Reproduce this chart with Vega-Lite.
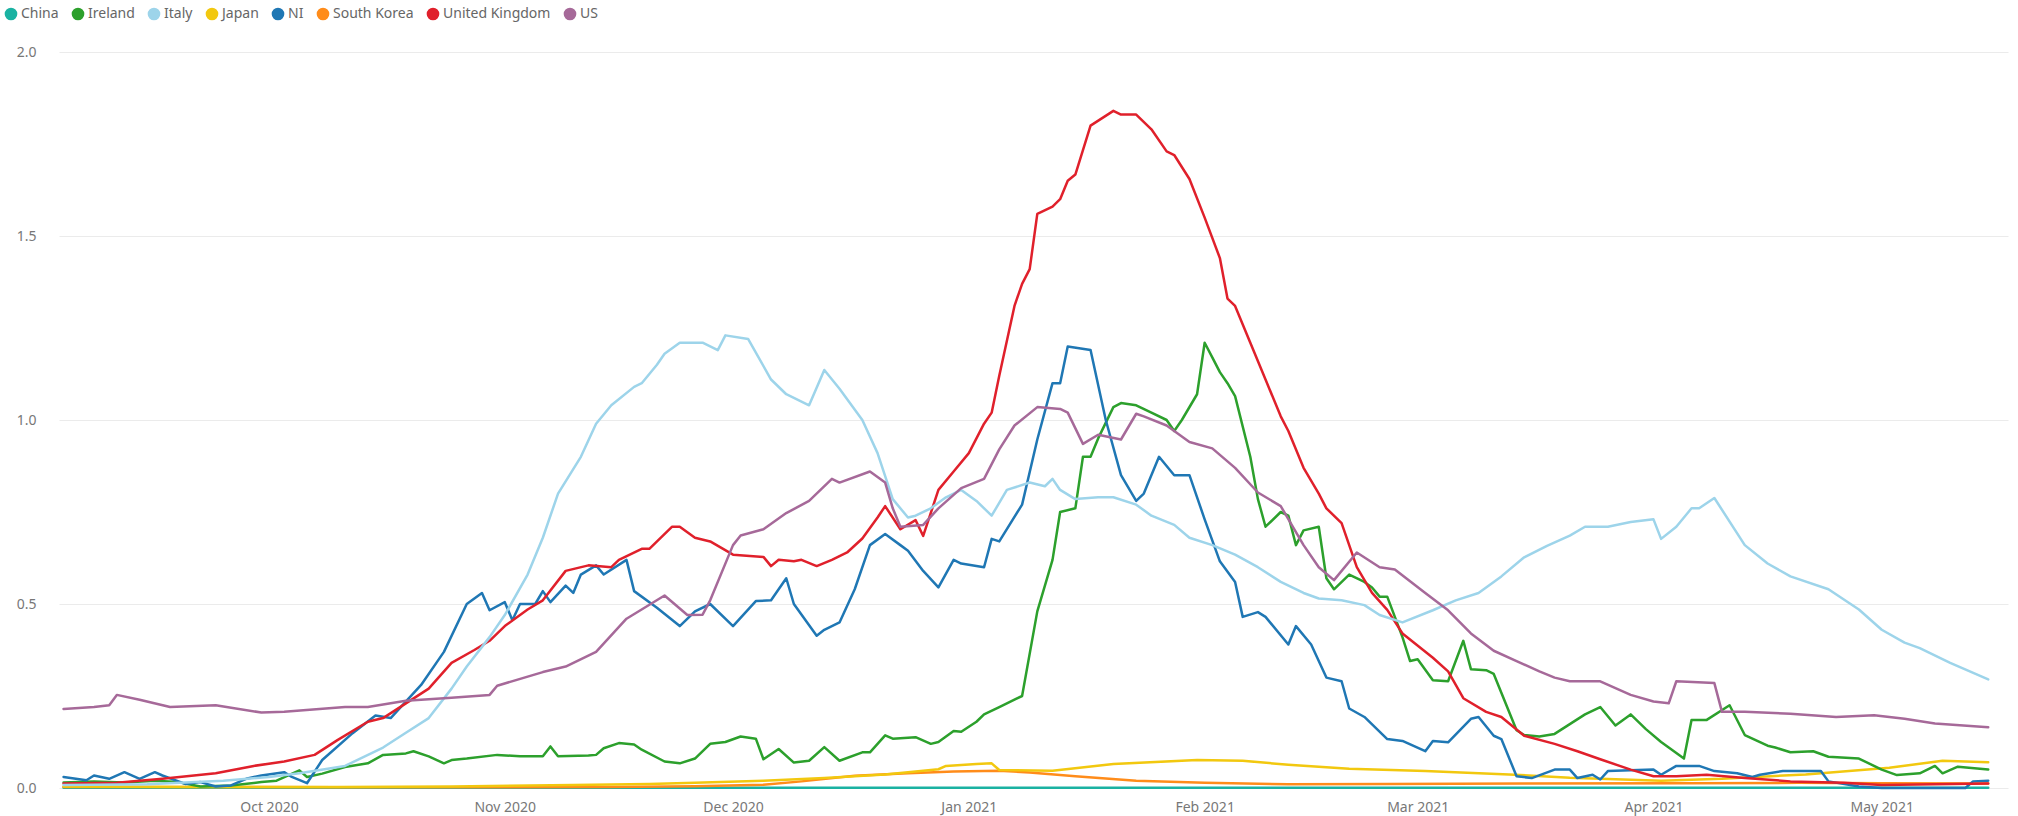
{
  "$schema": "https://vega.github.io/schema/vega-lite/v6.json",
  "autosize": "none",
  "width": 1949,
  "height": 736,
  "padding": {"left": 59, "top": 52, "right": 10, "bottom": 28},
  "background": "white",
  "config": {
    "view": {"stroke": null},
    "font": "Noto Sans"
  },
  "data": {
    "values": [
      {"country":"China","date":"2020-09-04","value":0.001},
      {"country":"China","date":"2020-10-15","value":0.001},
      {"country":"China","date":"2020-12-01","value":0.001},
      {"country":"China","date":"2021-01-15","value":0.001},
      {"country":"China","date":"2021-03-01","value":0.001},
      {"country":"China","date":"2021-04-15","value":0.001},
      {"country":"China","date":"2021-05-15","value":0.001},

      {"country":"South Korea","date":"2020-09-04","value":0.003},
      {"country":"South Korea","date":"2020-09-20","value":0.003},
      {"country":"South Korea","date":"2020-10-10","value":0.002},
      {"country":"South Korea","date":"2020-11-01","value":0.002},
      {"country":"South Korea","date":"2020-11-15","value":0.003},
      {"country":"South Korea","date":"2020-11-26","value":0.005},
      {"country":"South Korea","date":"2020-12-05","value":0.009},
      {"country":"South Korea","date":"2020-12-10","value":0.018},
      {"country":"South Korea","date":"2020-12-17","value":0.033},
      {"country":"South Korea","date":"2020-12-24","value":0.04},
      {"country":"South Korea","date":"2020-12-30","value":0.045},
      {"country":"South Korea","date":"2021-01-05","value":0.047},
      {"country":"South Korea","date":"2021-01-09","value":0.042},
      {"country":"South Korea","date":"2021-01-15","value":0.032},
      {"country":"South Korea","date":"2021-01-23","value":0.02},
      {"country":"South Korea","date":"2021-02-01","value":0.014},
      {"country":"South Korea","date":"2021-02-12","value":0.01},
      {"country":"South Korea","date":"2021-02-25","value":0.011},
      {"country":"South Korea","date":"2021-03-15","value":0.012},
      {"country":"South Korea","date":"2021-04-05","value":0.013},
      {"country":"South Korea","date":"2021-04-20","value":0.014},
      {"country":"South Korea","date":"2021-05-01","value":0.013},
      {"country":"South Korea","date":"2021-05-15","value":0.012},

      {"country":"Japan","date":"2020-09-04","value":0.004},
      {"country":"Japan","date":"2020-09-20","value":0.003},
      {"country":"Japan","date":"2020-10-10","value":0.003},
      {"country":"Japan","date":"2020-10-25","value":0.004},
      {"country":"Japan","date":"2020-11-10","value":0.008},
      {"country":"Japan","date":"2020-11-20","value":0.011},
      {"country":"Japan","date":"2020-11-26","value":0.014},
      {"country":"Japan","date":"2020-12-05","value":0.02},
      {"country":"Japan","date":"2020-12-13","value":0.027},
      {"country":"Japan","date":"2020-12-21","value":0.037},
      {"country":"Japan","date":"2020-12-28","value":0.051},
      {"country":"Japan","date":"2020-12-29","value":0.06},
      {"country":"Japan","date":"2021-01-02","value":0.065},
      {"country":"Japan","date":"2021-01-04","value":0.067},
      {"country":"Japan","date":"2021-01-05","value":0.049},
      {"country":"Japan","date":"2021-01-12","value":0.047},
      {"country":"Japan","date":"2021-01-20","value":0.065},
      {"country":"Japan","date":"2021-01-31","value":0.076},
      {"country":"Japan","date":"2021-02-06","value":0.074},
      {"country":"Japan","date":"2021-02-12","value":0.063},
      {"country":"Japan","date":"2021-02-20","value":0.052},
      {"country":"Japan","date":"2021-03-02","value":0.046},
      {"country":"Japan","date":"2021-03-13","value":0.037},
      {"country":"Japan","date":"2021-03-21","value":0.028},
      {"country":"Japan","date":"2021-04-02","value":0.02},
      {"country":"Japan","date":"2021-04-10","value":0.025},
      {"country":"Japan","date":"2021-04-21","value":0.037},
      {"country":"Japan","date":"2021-05-02","value":0.055},
      {"country":"Japan","date":"2021-05-09","value":0.074},
      {"country":"Japan","date":"2021-05-15","value":0.07},

      {"country":"Ireland","date":"2020-09-04","value":0.015},
      {"country":"Ireland","date":"2020-09-08","value":0.018},
      {"country":"Ireland","date":"2020-09-12","value":0.015},
      {"country":"Ireland","date":"2020-09-16","value":0.02},
      {"country":"Ireland","date":"2020-09-19","value":0.016},
      {"country":"Ireland","date":"2020-09-22","value":0.004},
      {"country":"Ireland","date":"2020-09-26","value":0.007},
      {"country":"Ireland","date":"2020-09-30","value":0.016},
      {"country":"Ireland","date":"2020-10-02","value":0.02},
      {"country":"Ireland","date":"2020-10-05","value":0.048},
      {"country":"Ireland","date":"2020-10-06","value":0.03},
      {"country":"Ireland","date":"2020-10-08","value":0.039},
      {"country":"Ireland","date":"2020-10-11","value":0.057},
      {"country":"Ireland","date":"2020-10-14","value":0.067},
      {"country":"Ireland","date":"2020-10-16","value":0.09},
      {"country":"Ireland","date":"2020-10-19","value":0.094},
      {"country":"Ireland","date":"2020-10-20","value":0.1},
      {"country":"Ireland","date":"2020-10-22","value":0.086},
      {"country":"Ireland","date":"2020-10-24","value":0.067},
      {"country":"Ireland","date":"2020-10-25","value":0.076},
      {"country":"Ireland","date":"2020-10-27","value":0.08},
      {"country":"Ireland","date":"2020-10-31","value":0.09},
      {"country":"Ireland","date":"2020-11-03","value":0.086},
      {"country":"Ireland","date":"2020-11-06","value":0.086},
      {"country":"Ireland","date":"2020-11-07","value":0.113},
      {"country":"Ireland","date":"2020-11-08","value":0.086},
      {"country":"Ireland","date":"2020-11-12","value":0.088},
      {"country":"Ireland","date":"2020-11-13","value":0.09},
      {"country":"Ireland","date":"2020-11-14","value":0.108},
      {"country":"Ireland","date":"2020-11-16","value":0.122},
      {"country":"Ireland","date":"2020-11-18","value":0.118},
      {"country":"Ireland","date":"2020-11-19","value":0.104},
      {"country":"Ireland","date":"2020-11-22","value":0.072},
      {"country":"Ireland","date":"2020-11-24","value":0.067},
      {"country":"Ireland","date":"2020-11-26","value":0.08},
      {"country":"Ireland","date":"2020-11-28","value":0.12},
      {"country":"Ireland","date":"2020-11-30","value":0.125},
      {"country":"Ireland","date":"2020-12-02","value":0.14},
      {"country":"Ireland","date":"2020-12-04","value":0.134},
      {"country":"Ireland","date":"2020-12-05","value":0.078},
      {"country":"Ireland","date":"2020-12-07","value":0.106},
      {"country":"Ireland","date":"2020-12-09","value":0.069},
      {"country":"Ireland","date":"2020-12-11","value":0.074},
      {"country":"Ireland","date":"2020-12-13","value":0.111},
      {"country":"Ireland","date":"2020-12-15","value":0.074},
      {"country":"Ireland","date":"2020-12-18","value":0.097},
      {"country":"Ireland","date":"2020-12-19","value":0.097},
      {"country":"Ireland","date":"2020-12-21","value":0.143},
      {"country":"Ireland","date":"2020-12-22","value":0.134},
      {"country":"Ireland","date":"2020-12-25","value":0.138},
      {"country":"Ireland","date":"2020-12-27","value":0.12},
      {"country":"Ireland","date":"2020-12-28","value":0.125},
      {"country":"Ireland","date":"2020-12-30","value":0.155},
      {"country":"Ireland","date":"2020-12-31","value":0.153},
      {"country":"Ireland","date":"2021-01-02","value":0.18},
      {"country":"Ireland","date":"2021-01-03","value":0.2},
      {"country":"Ireland","date":"2021-01-05","value":0.22},
      {"country":"Ireland","date":"2021-01-07","value":0.24},
      {"country":"Ireland","date":"2021-01-08","value":0.25},
      {"country":"Ireland","date":"2021-01-10","value":0.48},
      {"country":"Ireland","date":"2021-01-12","value":0.62},
      {"country":"Ireland","date":"2021-01-13","value":0.75},
      {"country":"Ireland","date":"2021-01-15","value":0.76},
      {"country":"Ireland","date":"2021-01-16","value":0.9},
      {"country":"Ireland","date":"2021-01-17","value":0.9},
      {"country":"Ireland","date":"2021-01-18","value":0.95},
      {"country":"Ireland","date":"2021-01-20","value":1.035},
      {"country":"Ireland","date":"2021-01-21","value":1.046},
      {"country":"Ireland","date":"2021-01-23","value":1.04},
      {"country":"Ireland","date":"2021-01-25","value":1.02},
      {"country":"Ireland","date":"2021-01-27","value":1.0},
      {"country":"Ireland","date":"2021-01-28","value":0.97},
      {"country":"Ireland","date":"2021-01-29","value":1.0},
      {"country":"Ireland","date":"2021-01-31","value":1.07},
      {"country":"Ireland","date":"2021-02-01","value":1.21},
      {"country":"Ireland","date":"2021-02-02","value":1.17},
      {"country":"Ireland","date":"2021-02-03","value":1.13},
      {"country":"Ireland","date":"2021-02-04","value":1.1},
      {"country":"Ireland","date":"2021-02-05","value":1.065},
      {"country":"Ireland","date":"2021-02-07","value":0.9},
      {"country":"Ireland","date":"2021-02-08","value":0.785},
      {"country":"Ireland","date":"2021-02-09","value":0.71},
      {"country":"Ireland","date":"2021-02-11","value":0.75},
      {"country":"Ireland","date":"2021-02-12","value":0.74},
      {"country":"Ireland","date":"2021-02-13","value":0.66},
      {"country":"Ireland","date":"2021-02-14","value":0.7},
      {"country":"Ireland","date":"2021-02-16","value":0.71},
      {"country":"Ireland","date":"2021-02-17","value":0.57},
      {"country":"Ireland","date":"2021-02-18","value":0.54},
      {"country":"Ireland","date":"2021-02-20","value":0.58},
      {"country":"Ireland","date":"2021-02-22","value":0.56},
      {"country":"Ireland","date":"2021-02-23","value":0.545},
      {"country":"Ireland","date":"2021-02-24","value":0.52},
      {"country":"Ireland","date":"2021-02-25","value":0.52},
      {"country":"Ireland","date":"2021-02-27","value":0.41},
      {"country":"Ireland","date":"2021-02-28","value":0.345},
      {"country":"Ireland","date":"2021-03-01","value":0.35},
      {"country":"Ireland","date":"2021-03-03","value":0.293},
      {"country":"Ireland","date":"2021-03-05","value":0.29},
      {"country":"Ireland","date":"2021-03-07","value":0.4},
      {"country":"Ireland","date":"2021-03-08","value":0.323},
      {"country":"Ireland","date":"2021-03-10","value":0.32},
      {"country":"Ireland","date":"2021-03-11","value":0.31},
      {"country":"Ireland","date":"2021-03-14","value":0.157},
      {"country":"Ireland","date":"2021-03-15","value":0.144},
      {"country":"Ireland","date":"2021-03-17","value":0.14},
      {"country":"Ireland","date":"2021-03-19","value":0.147},
      {"country":"Ireland","date":"2021-03-23","value":0.2},
      {"country":"Ireland","date":"2021-03-25","value":0.22},
      {"country":"Ireland","date":"2021-03-27","value":0.17},
      {"country":"Ireland","date":"2021-03-29","value":0.2},
      {"country":"Ireland","date":"2021-03-31","value":0.16},
      {"country":"Ireland","date":"2021-04-02","value":0.125},
      {"country":"Ireland","date":"2021-04-03","value":0.11},
      {"country":"Ireland","date":"2021-04-05","value":0.08},
      {"country":"Ireland","date":"2021-04-06","value":0.185},
      {"country":"Ireland","date":"2021-04-08","value":0.185},
      {"country":"Ireland","date":"2021-04-11","value":0.225},
      {"country":"Ireland","date":"2021-04-13","value":0.144},
      {"country":"Ireland","date":"2021-04-16","value":0.115},
      {"country":"Ireland","date":"2021-04-17","value":0.11},
      {"country":"Ireland","date":"2021-04-19","value":0.097},
      {"country":"Ireland","date":"2021-04-22","value":0.1},
      {"country":"Ireland","date":"2021-04-24","value":0.085},
      {"country":"Ireland","date":"2021-04-28","value":0.08},
      {"country":"Ireland","date":"2021-05-01","value":0.05},
      {"country":"Ireland","date":"2021-05-03","value":0.035},
      {"country":"Ireland","date":"2021-05-06","value":0.04},
      {"country":"Ireland","date":"2021-05-08","value":0.06},
      {"country":"Ireland","date":"2021-05-09","value":0.04},
      {"country":"Ireland","date":"2021-05-11","value":0.058},
      {"country":"Ireland","date":"2021-05-15","value":0.05},

      {"country":"NI","date":"2020-09-04","value":0.03},
      {"country":"NI","date":"2020-09-07","value":0.021},
      {"country":"NI","date":"2020-09-08","value":0.034},
      {"country":"NI","date":"2020-09-10","value":0.025},
      {"country":"NI","date":"2020-09-12","value":0.043},
      {"country":"NI","date":"2020-09-14","value":0.025},
      {"country":"NI","date":"2020-09-16","value":0.043},
      {"country":"NI","date":"2020-09-17","value":0.034},
      {"country":"NI","date":"2020-09-20","value":0.011},
      {"country":"NI","date":"2020-09-22","value":0.016},
      {"country":"NI","date":"2020-09-24","value":0.004},
      {"country":"NI","date":"2020-09-26","value":0.007},
      {"country":"NI","date":"2020-09-28","value":0.025},
      {"country":"NI","date":"2020-09-30","value":0.034},
      {"country":"NI","date":"2020-10-03","value":0.043},
      {"country":"NI","date":"2020-10-04","value":0.03},
      {"country":"NI","date":"2020-10-06","value":0.013},
      {"country":"NI","date":"2020-10-08","value":0.076},
      {"country":"NI","date":"2020-10-12","value":0.149},
      {"country":"NI","date":"2020-10-15","value":0.197},
      {"country":"NI","date":"2020-10-17","value":0.19},
      {"country":"NI","date":"2020-10-21","value":0.28},
      {"country":"NI","date":"2020-10-24","value":0.37},
      {"country":"NI","date":"2020-10-27","value":0.5},
      {"country":"NI","date":"2020-10-29","value":0.53},
      {"country":"NI","date":"2020-10-30","value":0.483},
      {"country":"NI","date":"2020-11-01","value":0.505},
      {"country":"NI","date":"2020-11-02","value":0.456},
      {"country":"NI","date":"2020-11-03","value":0.5},
      {"country":"NI","date":"2020-11-05","value":0.5},
      {"country":"NI","date":"2020-11-06","value":0.535},
      {"country":"NI","date":"2020-11-07","value":0.505},
      {"country":"NI","date":"2020-11-09","value":0.55},
      {"country":"NI","date":"2020-11-10","value":0.53},
      {"country":"NI","date":"2020-11-11","value":0.58},
      {"country":"NI","date":"2020-11-13","value":0.605},
      {"country":"NI","date":"2020-11-14","value":0.58},
      {"country":"NI","date":"2020-11-17","value":0.62},
      {"country":"NI","date":"2020-11-18","value":0.535},
      {"country":"NI","date":"2020-11-21","value":0.49},
      {"country":"NI","date":"2020-11-24","value":0.44},
      {"country":"NI","date":"2020-11-26","value":0.48},
      {"country":"NI","date":"2020-11-28","value":0.5},
      {"country":"NI","date":"2020-12-01","value":0.44},
      {"country":"NI","date":"2020-12-04","value":0.508},
      {"country":"NI","date":"2020-12-06","value":0.51},
      {"country":"NI","date":"2020-12-08","value":0.57},
      {"country":"NI","date":"2020-12-09","value":0.5},
      {"country":"NI","date":"2020-12-12","value":0.414},
      {"country":"NI","date":"2020-12-13","value":0.43},
      {"country":"NI","date":"2020-12-15","value":0.45},
      {"country":"NI","date":"2020-12-17","value":0.54},
      {"country":"NI","date":"2020-12-19","value":0.66},
      {"country":"NI","date":"2020-12-21","value":0.69},
      {"country":"NI","date":"2020-12-23","value":0.66},
      {"country":"NI","date":"2020-12-24","value":0.645},
      {"country":"NI","date":"2020-12-26","value":0.59},
      {"country":"NI","date":"2020-12-28","value":0.545},
      {"country":"NI","date":"2020-12-30","value":0.62},
      {"country":"NI","date":"2020-12-31","value":0.61},
      {"country":"NI","date":"2021-01-03","value":0.6},
      {"country":"NI","date":"2021-01-04","value":0.677},
      {"country":"NI","date":"2021-01-05","value":0.67},
      {"country":"NI","date":"2021-01-08","value":0.77},
      {"country":"NI","date":"2021-01-10","value":0.947},
      {"country":"NI","date":"2021-01-12","value":1.1},
      {"country":"NI","date":"2021-01-13","value":1.1},
      {"country":"NI","date":"2021-01-14","value":1.2},
      {"country":"NI","date":"2021-01-17","value":1.19},
      {"country":"NI","date":"2021-01-19","value":1.0},
      {"country":"NI","date":"2021-01-21","value":0.85},
      {"country":"NI","date":"2021-01-23","value":0.78},
      {"country":"NI","date":"2021-01-24","value":0.8},
      {"country":"NI","date":"2021-01-26","value":0.9},
      {"country":"NI","date":"2021-01-28","value":0.85},
      {"country":"NI","date":"2021-01-30","value":0.85},
      {"country":"NI","date":"2021-02-01","value":0.73},
      {"country":"NI","date":"2021-02-03","value":0.616},
      {"country":"NI","date":"2021-02-05","value":0.56},
      {"country":"NI","date":"2021-02-06","value":0.465},
      {"country":"NI","date":"2021-02-08","value":0.478},
      {"country":"NI","date":"2021-02-09","value":0.465},
      {"country":"NI","date":"2021-02-12","value":0.39},
      {"country":"NI","date":"2021-02-13","value":0.44},
      {"country":"NI","date":"2021-02-15","value":0.39},
      {"country":"NI","date":"2021-02-17","value":0.3},
      {"country":"NI","date":"2021-02-19","value":0.29},
      {"country":"NI","date":"2021-02-20","value":0.216},
      {"country":"NI","date":"2021-02-22","value":0.193},
      {"country":"NI","date":"2021-02-25","value":0.133},
      {"country":"NI","date":"2021-02-27","value":0.128},
      {"country":"NI","date":"2021-03-02","value":0.1},
      {"country":"NI","date":"2021-03-03","value":0.128},
      {"country":"NI","date":"2021-03-05","value":0.124},
      {"country":"NI","date":"2021-03-08","value":0.188},
      {"country":"NI","date":"2021-03-09","value":0.193},
      {"country":"NI","date":"2021-03-11","value":0.142},
      {"country":"NI","date":"2021-03-12","value":0.133},
      {"country":"NI","date":"2021-03-14","value":0.032},
      {"country":"NI","date":"2021-03-16","value":0.027},
      {"country":"NI","date":"2021-03-19","value":0.05},
      {"country":"NI","date":"2021-03-21","value":0.05},
      {"country":"NI","date":"2021-03-22","value":0.027},
      {"country":"NI","date":"2021-03-24","value":0.036},
      {"country":"NI","date":"2021-03-25","value":0.023},
      {"country":"NI","date":"2021-03-26","value":0.046},
      {"country":"NI","date":"2021-04-01","value":0.05},
      {"country":"NI","date":"2021-04-02","value":0.036},
      {"country":"NI","date":"2021-04-04","value":0.06},
      {"country":"NI","date":"2021-04-07","value":0.06},
      {"country":"NI","date":"2021-04-09","value":0.046},
      {"country":"NI","date":"2021-04-12","value":0.04},
      {"country":"NI","date":"2021-04-14","value":0.03},
      {"country":"NI","date":"2021-04-15","value":0.036},
      {"country":"NI","date":"2021-04-18","value":0.046},
      {"country":"NI","date":"2021-04-23","value":0.046},
      {"country":"NI","date":"2021-04-24","value":0.018},
      {"country":"NI","date":"2021-04-28","value":0.004},
      {"country":"NI","date":"2021-05-01","value":0.0},
      {"country":"NI","date":"2021-05-12","value":0.0},
      {"country":"NI","date":"2021-05-13","value":0.018},
      {"country":"NI","date":"2021-05-15","value":0.02},

      {"country":"United Kingdom","date":"2020-09-04","value":0.012},
      {"country":"United Kingdom","date":"2020-09-11","value":0.014},
      {"country":"United Kingdom","date":"2020-09-17","value":0.025},
      {"country":"United Kingdom","date":"2020-09-24","value":0.04},
      {"country":"United Kingdom","date":"2020-09-29","value":0.06},
      {"country":"United Kingdom","date":"2020-10-03","value":0.072},
      {"country":"United Kingdom","date":"2020-10-07","value":0.09},
      {"country":"United Kingdom","date":"2020-10-10","value":0.13},
      {"country":"United Kingdom","date":"2020-10-14","value":0.18},
      {"country":"United Kingdom","date":"2020-10-16","value":0.19},
      {"country":"United Kingdom","date":"2020-10-19","value":0.23},
      {"country":"United Kingdom","date":"2020-10-22","value":0.27},
      {"country":"United Kingdom","date":"2020-10-25","value":0.34},
      {"country":"United Kingdom","date":"2020-10-28","value":0.375},
      {"country":"United Kingdom","date":"2020-10-30","value":0.4},
      {"country":"United Kingdom","date":"2020-11-01","value":0.44},
      {"country":"United Kingdom","date":"2020-11-04","value":0.485},
      {"country":"United Kingdom","date":"2020-11-06","value":0.51},
      {"country":"United Kingdom","date":"2020-11-09","value":0.59},
      {"country":"United Kingdom","date":"2020-11-12","value":0.605},
      {"country":"United Kingdom","date":"2020-11-15","value":0.6},
      {"country":"United Kingdom","date":"2020-11-16","value":0.62},
      {"country":"United Kingdom","date":"2020-11-19","value":0.65},
      {"country":"United Kingdom","date":"2020-11-20","value":0.65},
      {"country":"United Kingdom","date":"2020-11-23","value":0.71},
      {"country":"United Kingdom","date":"2020-11-24","value":0.71},
      {"country":"United Kingdom","date":"2020-11-26","value":0.68},
      {"country":"United Kingdom","date":"2020-11-28","value":0.67},
      {"country":"United Kingdom","date":"2020-12-01","value":0.634},
      {"country":"United Kingdom","date":"2020-12-05","value":0.628},
      {"country":"United Kingdom","date":"2020-12-06","value":0.603},
      {"country":"United Kingdom","date":"2020-12-07","value":0.62},
      {"country":"United Kingdom","date":"2020-12-09","value":0.616},
      {"country":"United Kingdom","date":"2020-12-10","value":0.62},
      {"country":"United Kingdom","date":"2020-12-12","value":0.603},
      {"country":"United Kingdom","date":"2020-12-14","value":0.62},
      {"country":"United Kingdom","date":"2020-12-16","value":0.64},
      {"country":"United Kingdom","date":"2020-12-18","value":0.678},
      {"country":"United Kingdom","date":"2020-12-20","value":0.735},
      {"country":"United Kingdom","date":"2020-12-21","value":0.766},
      {"country":"United Kingdom","date":"2020-12-23","value":0.703},
      {"country":"United Kingdom","date":"2020-12-25","value":0.728},
      {"country":"United Kingdom","date":"2020-12-26","value":0.685},
      {"country":"United Kingdom","date":"2020-12-28","value":0.81},
      {"country":"United Kingdom","date":"2020-12-30","value":0.86},
      {"country":"United Kingdom","date":"2021-01-01","value":0.91},
      {"country":"United Kingdom","date":"2021-01-03","value":0.99},
      {"country":"United Kingdom","date":"2021-01-04","value":1.02},
      {"country":"United Kingdom","date":"2021-01-05","value":1.12},
      {"country":"United Kingdom","date":"2021-01-07","value":1.31},
      {"country":"United Kingdom","date":"2021-01-08","value":1.37},
      {"country":"United Kingdom","date":"2021-01-09","value":1.41},
      {"country":"United Kingdom","date":"2021-01-10","value":1.56},
      {"country":"United Kingdom","date":"2021-01-12","value":1.58},
      {"country":"United Kingdom","date":"2021-01-13","value":1.6},
      {"country":"United Kingdom","date":"2021-01-14","value":1.65},
      {"country":"United Kingdom","date":"2021-01-15","value":1.667},
      {"country":"United Kingdom","date":"2021-01-17","value":1.8},
      {"country":"United Kingdom","date":"2021-01-20","value":1.84},
      {"country":"United Kingdom","date":"2021-01-21","value":1.83},
      {"country":"United Kingdom","date":"2021-01-23","value":1.83},
      {"country":"United Kingdom","date":"2021-01-25","value":1.79},
      {"country":"United Kingdom","date":"2021-01-27","value":1.73},
      {"country":"United Kingdom","date":"2021-01-28","value":1.72},
      {"country":"United Kingdom","date":"2021-01-30","value":1.655},
      {"country":"United Kingdom","date":"2021-02-01","value":1.55},
      {"country":"United Kingdom","date":"2021-02-03","value":1.44},
      {"country":"United Kingdom","date":"2021-02-04","value":1.33},
      {"country":"United Kingdom","date":"2021-02-05","value":1.31},
      {"country":"United Kingdom","date":"2021-02-07","value":1.21},
      {"country":"United Kingdom","date":"2021-02-09","value":1.11},
      {"country":"United Kingdom","date":"2021-02-11","value":1.01},
      {"country":"United Kingdom","date":"2021-02-12","value":0.97},
      {"country":"United Kingdom","date":"2021-02-14","value":0.87},
      {"country":"United Kingdom","date":"2021-02-16","value":0.8},
      {"country":"United Kingdom","date":"2021-02-17","value":0.76},
      {"country":"United Kingdom","date":"2021-02-19","value":0.72},
      {"country":"United Kingdom","date":"2021-02-21","value":0.6},
      {"country":"United Kingdom","date":"2021-02-23","value":0.53},
      {"country":"United Kingdom","date":"2021-02-25","value":0.484},
      {"country":"United Kingdom","date":"2021-02-27","value":0.42},
      {"country":"United Kingdom","date":"2021-03-03","value":0.354},
      {"country":"United Kingdom","date":"2021-03-05","value":0.317},
      {"country":"United Kingdom","date":"2021-03-07","value":0.244},
      {"country":"United Kingdom","date":"2021-03-10","value":0.207},
      {"country":"United Kingdom","date":"2021-03-12","value":0.193},
      {"country":"United Kingdom","date":"2021-03-15","value":0.142},
      {"country":"United Kingdom","date":"2021-03-19","value":0.12},
      {"country":"United Kingdom","date":"2021-03-22","value":0.1},
      {"country":"United Kingdom","date":"2021-03-25","value":0.078},
      {"country":"United Kingdom","date":"2021-03-29","value":0.05},
      {"country":"United Kingdom","date":"2021-04-01","value":0.032},
      {"country":"United Kingdom","date":"2021-04-04","value":0.032},
      {"country":"United Kingdom","date":"2021-04-08","value":0.036},
      {"country":"United Kingdom","date":"2021-04-13","value":0.027},
      {"country":"United Kingdom","date":"2021-04-19","value":0.018},
      {"country":"United Kingdom","date":"2021-04-26","value":0.014},
      {"country":"United Kingdom","date":"2021-05-01","value":0.008},
      {"country":"United Kingdom","date":"2021-05-15","value":0.012},

      {"country":"Italy","date":"2020-09-04","value":0.008},
      {"country":"Italy","date":"2020-09-15","value":0.01},
      {"country":"Italy","date":"2020-09-25","value":0.02},
      {"country":"Italy","date":"2020-10-01","value":0.03},
      {"country":"Italy","date":"2020-10-05","value":0.04},
      {"country":"Italy","date":"2020-10-11","value":0.06},
      {"country":"Italy","date":"2020-10-16","value":0.11},
      {"country":"Italy","date":"2020-10-19","value":0.15},
      {"country":"Italy","date":"2020-10-22","value":0.19},
      {"country":"Italy","date":"2020-10-25","value":0.27},
      {"country":"Italy","date":"2020-10-27","value":0.33},
      {"country":"Italy","date":"2020-10-30","value":0.41},
      {"country":"Italy","date":"2020-11-01","value":0.47},
      {"country":"Italy","date":"2020-11-04","value":0.58},
      {"country":"Italy","date":"2020-11-06","value":0.68},
      {"country":"Italy","date":"2020-11-08","value":0.8},
      {"country":"Italy","date":"2020-11-11","value":0.9},
      {"country":"Italy","date":"2020-11-13","value":0.99},
      {"country":"Italy","date":"2020-11-15","value":1.04},
      {"country":"Italy","date":"2020-11-18","value":1.09},
      {"country":"Italy","date":"2020-11-19","value":1.1},
      {"country":"Italy","date":"2020-11-21","value":1.15},
      {"country":"Italy","date":"2020-11-22","value":1.18},
      {"country":"Italy","date":"2020-11-24","value":1.21},
      {"country":"Italy","date":"2020-11-27","value":1.21},
      {"country":"Italy","date":"2020-11-29","value":1.19},
      {"country":"Italy","date":"2020-11-30","value":1.23},
      {"country":"Italy","date":"2020-12-03","value":1.22},
      {"country":"Italy","date":"2020-12-06","value":1.11},
      {"country":"Italy","date":"2020-12-08","value":1.07},
      {"country":"Italy","date":"2020-12-11","value":1.04},
      {"country":"Italy","date":"2020-12-13","value":1.136},
      {"country":"Italy","date":"2020-12-15","value":1.085},
      {"country":"Italy","date":"2020-12-18","value":1.0},
      {"country":"Italy","date":"2020-12-20","value":0.91},
      {"country":"Italy","date":"2020-12-22","value":0.785},
      {"country":"Italy","date":"2020-12-24","value":0.735},
      {"country":"Italy","date":"2020-12-25","value":0.74},
      {"country":"Italy","date":"2020-12-27","value":0.76},
      {"country":"Italy","date":"2020-12-29","value":0.79},
      {"country":"Italy","date":"2020-12-31","value":0.81},
      {"country":"Italy","date":"2021-01-02","value":0.78},
      {"country":"Italy","date":"2021-01-04","value":0.74},
      {"country":"Italy","date":"2021-01-06","value":0.81},
      {"country":"Italy","date":"2021-01-09","value":0.83},
      {"country":"Italy","date":"2021-01-11","value":0.82},
      {"country":"Italy","date":"2021-01-12","value":0.84},
      {"country":"Italy","date":"2021-01-13","value":0.81},
      {"country":"Italy","date":"2021-01-15","value":0.785},
      {"country":"Italy","date":"2021-01-18","value":0.79},
      {"country":"Italy","date":"2021-01-20","value":0.79},
      {"country":"Italy","date":"2021-01-23","value":0.77},
      {"country":"Italy","date":"2021-01-25","value":0.74},
      {"country":"Italy","date":"2021-01-28","value":0.715},
      {"country":"Italy","date":"2021-01-30","value":0.68},
      {"country":"Italy","date":"2021-02-02","value":0.66},
      {"country":"Italy","date":"2021-02-05","value":0.634},
      {"country":"Italy","date":"2021-02-08","value":0.6},
      {"country":"Italy","date":"2021-02-11","value":0.56},
      {"country":"Italy","date":"2021-02-14","value":0.53},
      {"country":"Italy","date":"2021-02-16","value":0.515},
      {"country":"Italy","date":"2021-02-19","value":0.51},
      {"country":"Italy","date":"2021-02-22","value":0.497},
      {"country":"Italy","date":"2021-02-24","value":0.47},
      {"country":"Italy","date":"2021-02-27","value":0.45},
      {"country":"Italy","date":"2021-03-03","value":0.483},
      {"country":"Italy","date":"2021-03-06","value":0.51},
      {"country":"Italy","date":"2021-03-09","value":0.53},
      {"country":"Italy","date":"2021-03-12","value":0.575},
      {"country":"Italy","date":"2021-03-15","value":0.627},
      {"country":"Italy","date":"2021-03-18","value":0.658},
      {"country":"Italy","date":"2021-03-21","value":0.686},
      {"country":"Italy","date":"2021-03-23","value":0.71},
      {"country":"Italy","date":"2021-03-26","value":0.71},
      {"country":"Italy","date":"2021-03-29","value":0.723},
      {"country":"Italy","date":"2021-04-01","value":0.73},
      {"country":"Italy","date":"2021-04-02","value":0.677},
      {"country":"Italy","date":"2021-04-04","value":0.71},
      {"country":"Italy","date":"2021-04-06","value":0.76},
      {"country":"Italy","date":"2021-04-07","value":0.76},
      {"country":"Italy","date":"2021-04-09","value":0.788},
      {"country":"Italy","date":"2021-04-13","value":0.66},
      {"country":"Italy","date":"2021-04-16","value":0.61},
      {"country":"Italy","date":"2021-04-19","value":0.575},
      {"country":"Italy","date":"2021-04-24","value":0.54},
      {"country":"Italy","date":"2021-04-28","value":0.485},
      {"country":"Italy","date":"2021-05-01","value":0.43},
      {"country":"Italy","date":"2021-05-04","value":0.395},
      {"country":"Italy","date":"2021-05-06","value":0.38},
      {"country":"Italy","date":"2021-05-10","value":0.34},
      {"country":"Italy","date":"2021-05-15","value":0.295},

      {"country":"US","date":"2020-09-04","value":0.215},
      {"country":"US","date":"2020-09-08","value":0.22},
      {"country":"US","date":"2020-09-10","value":0.225},
      {"country":"US","date":"2020-09-11","value":0.253},
      {"country":"US","date":"2020-09-14","value":0.24},
      {"country":"US","date":"2020-09-18","value":0.22},
      {"country":"US","date":"2020-09-24","value":0.225},
      {"country":"US","date":"2020-09-30","value":0.205},
      {"country":"US","date":"2020-10-03","value":0.207},
      {"country":"US","date":"2020-10-11","value":0.22},
      {"country":"US","date":"2020-10-14","value":0.22},
      {"country":"US","date":"2020-10-19","value":0.237},
      {"country":"US","date":"2020-10-25","value":0.245},
      {"country":"US","date":"2020-10-30","value":0.253},
      {"country":"US","date":"2020-10-31","value":0.278},
      {"country":"US","date":"2020-11-06","value":0.315},
      {"country":"US","date":"2020-11-09","value":0.33},
      {"country":"US","date":"2020-11-13","value":0.37},
      {"country":"US","date":"2020-11-17","value":0.46},
      {"country":"US","date":"2020-11-22","value":0.523},
      {"country":"US","date":"2020-11-25","value":0.47},
      {"country":"US","date":"2020-11-27","value":0.471},
      {"country":"US","date":"2020-11-28","value":0.51},
      {"country":"US","date":"2020-12-01","value":0.66},
      {"country":"US","date":"2020-12-02","value":0.686},
      {"country":"US","date":"2020-12-05","value":0.703},
      {"country":"US","date":"2020-12-08","value":0.747},
      {"country":"US","date":"2020-12-11","value":0.78},
      {"country":"US","date":"2020-12-14","value":0.84},
      {"country":"US","date":"2020-12-15","value":0.83},
      {"country":"US","date":"2020-12-19","value":0.86},
      {"country":"US","date":"2020-12-21","value":0.83},
      {"country":"US","date":"2020-12-22","value":0.76},
      {"country":"US","date":"2020-12-23","value":0.71},
      {"country":"US","date":"2020-12-26","value":0.715},
      {"country":"US","date":"2020-12-28","value":0.76},
      {"country":"US","date":"2020-12-31","value":0.815},
      {"country":"US","date":"2021-01-03","value":0.84},
      {"country":"US","date":"2021-01-05","value":0.92},
      {"country":"US","date":"2021-01-07","value":0.985},
      {"country":"US","date":"2021-01-10","value":1.035},
      {"country":"US","date":"2021-01-13","value":1.03},
      {"country":"US","date":"2021-01-14","value":1.02},
      {"country":"US","date":"2021-01-16","value":0.935},
      {"country":"US","date":"2021-01-18","value":0.96},
      {"country":"US","date":"2021-01-21","value":0.947},
      {"country":"US","date":"2021-01-23","value":1.017},
      {"country":"US","date":"2021-01-24","value":1.01},
      {"country":"US","date":"2021-01-27","value":0.985},
      {"country":"US","date":"2021-01-30","value":0.94},
      {"country":"US","date":"2021-02-02","value":0.923},
      {"country":"US","date":"2021-02-05","value":0.87},
      {"country":"US","date":"2021-02-08","value":0.803},
      {"country":"US","date":"2021-02-11","value":0.766},
      {"country":"US","date":"2021-02-14","value":0.66},
      {"country":"US","date":"2021-02-16","value":0.6},
      {"country":"US","date":"2021-02-18","value":0.565},
      {"country":"US","date":"2021-02-21","value":0.64},
      {"country":"US","date":"2021-02-24","value":0.6},
      {"country":"US","date":"2021-02-26","value":0.594},
      {"country":"US","date":"2021-03-02","value":0.53},
      {"country":"US","date":"2021-03-05","value":0.483},
      {"country":"US","date":"2021-03-08","value":0.42},
      {"country":"US","date":"2021-03-11","value":0.373},
      {"country":"US","date":"2021-03-14","value":0.345},
      {"country":"US","date":"2021-03-17","value":0.317},
      {"country":"US","date":"2021-03-19","value":0.3},
      {"country":"US","date":"2021-03-21","value":0.29},
      {"country":"US","date":"2021-03-25","value":0.29},
      {"country":"US","date":"2021-03-29","value":0.253},
      {"country":"US","date":"2021-04-01","value":0.235},
      {"country":"US","date":"2021-04-03","value":0.23},
      {"country":"US","date":"2021-04-04","value":0.29},
      {"country":"US","date":"2021-04-09","value":0.285},
      {"country":"US","date":"2021-04-10","value":0.207},
      {"country":"US","date":"2021-04-13","value":0.207},
      {"country":"US","date":"2021-04-19","value":0.202},
      {"country":"US","date":"2021-04-25","value":0.193},
      {"country":"US","date":"2021-04-30","value":0.198},
      {"country":"US","date":"2021-05-04","value":0.188},
      {"country":"US","date":"2021-05-08","value":0.175},
      {"country":"US","date":"2021-05-15","value":0.165}
    ]
  },
  "mark": {"type": "line", "strokeWidth": 2.5, "strokeJoin": "round", "strokeCap": "round"},
  "encoding": {
    "x": {
      "field": "date",
      "type": "temporal",
      "title": null,
      "scale": {
        "type": "utc",
        "domain": [
          {"year": 2020, "month": 9, "date": 3, "hours": 9, "minutes": 36, "utc": true},
          {"year": 2021, "month": 5, "date": 17, "hours": 14, "minutes": 24, "utc": true}
        ]
      },
      "axis": {
        "values": [
          {"year": 2020, "month": 10, "date": 1, "utc": true},
          {"year": 2020, "month": 11, "date": 1, "utc": true},
          {"year": 2020, "month": 12, "date": 1, "utc": true},
          {"year": 2021, "month": 1, "date": 1, "utc": true},
          {"year": 2021, "month": 2, "date": 1, "utc": true},
          {"year": 2021, "month": 3, "date": 1, "utc": true},
          {"year": 2021, "month": 4, "date": 1, "utc": true},
          {"year": 2021, "month": 5, "date": 1, "utc": true}
        ],
        "labelExpr": "utcFormat(datum.value, '%b %Y')",
        "grid": false,
        "domain": false,
        "ticks": false,
        "labelPadding": 12,
        "labelFontSize": 14,
        "labelColor": "#777777",
        "labelFont": "Noto Sans",
        "labelOverlap": false
      }
    },
    "y": {
      "field": "value",
      "type": "quantitative",
      "title": null,
      "scale": {"domain": [0, 2], "nice": false, "zero": true},
      "axis": {
        "values": [0, 0.5, 1, 1.5, 2],
        "format": ".1f",
        "grid": true,
        "gridColor": "#EBEBEB",
        "gridWidth": 1,
        "domain": false,
        "ticks": false,
        "labelPadding": 23,
        "labelFontSize": 14,
        "labelColor": "#777777",
        "labelFont": "Noto Sans"
      }
    },
    "color": {
      "field": "country",
      "type": "nominal",
      "scale": {
        "domain": ["China", "Ireland", "Italy", "Japan", "NI", "South Korea", "United Kingdom", "US"],
        "range": ["#1AB2A2", "#2CA02C", "#9DD4EA", "#F2C80F", "#1F77B4", "#FF8C1A", "#E0202B", "#A66999"]
      },
      "legend": {
        "orient": "none",
        "legendX": -55,
        "legendY": -45,
        "direction": "horizontal",
        "title": null,
        "symbolType": "circle",
        "symbolSize": 160,
        "symbolStrokeWidth": 0,
        "labelFontSize": 14,
        "labelFont": "Noto Sans",
        "labelColor": "#666666",
        "labelOffset": 3,
        "columnPadding": 12,
        "encode": {
          "symbols": {
            "update": {
              "fill": {"scale": "color", "field": "value"},
              "fillOpacity": {"value": 1},
              "strokeWidth": {"value": 0}
            }
          }
        }
      }
    }
  }
}
